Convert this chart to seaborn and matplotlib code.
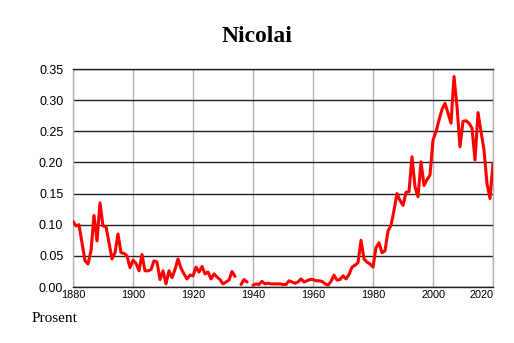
import numpy as np
import pandas as pd
import matplotlib
matplotlib.use("Agg")
import matplotlib.pyplot as plt
from matplotlib.ticker import MultipleLocator, FormatStrFormatter
import seaborn as sns

sns.set_style("white")
plt.rcParams['font.family'] = ['Liberation Sans', 'DejaVu Sans']
plt.rcParams['text.color'] = 'black'
plt.rcParams['xtick.color'] = 'black'
plt.rcParams['ytick.color'] = 'black'

# Share of newborns named Nicolai (percent), one value per year from 1880
first_year = 1880
last_year = 2020
share = [
    0.105, 0.098, 0.100, 0.071, 0.042, 0.037, 0.058, 0.115, 0.074, 0.135,   # 1880s
    0.098, 0.097, 0.071, 0.045, 0.055, 0.085, 0.055, 0.054, 0.050, 0.031,   # 1890s
    0.043, 0.038, 0.026, 0.052, 0.026, 0.026, 0.028, 0.042, 0.040, 0.012,   # 1900s
    0.026, 0.005, 0.026, 0.015, 0.028, 0.045, 0.030, 0.021, 0.013, 0.019,   # 1910s
    0.018, 0.032, 0.024, 0.033, 0.021, 0.024, 0.013, 0.021, 0.016, 0.012,   # 1920s
    0.005, 0.008, 0.011, 0.025, 0.017, None, 0.004, 0.012, 0.008, None,     # 1930s
    0.003, 0.005, 0.004, 0.009, 0.005, 0.006, 0.005, 0.005, 0.005, 0.005,   # 1940s
    0.004, 0.004, 0.010, 0.008, 0.006, 0.008, 0.013, 0.008, 0.010, 0.012,   # 1950s
    0.012, 0.010, 0.010, 0.009, 0.005, 0.003, 0.009, 0.019, 0.011, 0.012,   # 1960s
    0.018, 0.013, 0.020, 0.032, 0.035, 0.039, 0.075, 0.045, 0.040, 0.037,   # 1970s
    0.032, 0.063, 0.071, 0.055, 0.058, 0.090, 0.099, 0.123, 0.150, 0.139,   # 1980s
    0.131, 0.152, 0.153, 0.209, 0.161, 0.145, 0.201, 0.163, 0.172, 0.180,   # 1990s
    0.236, 0.249, 0.268, 0.285, 0.295, 0.279, 0.263, 0.338, 0.290, 0.225,   # 2000s
    0.266, 0.267, 0.263, 0.255, 0.204, 0.280, 0.250, 0.220, 0.166, 0.142,   # 2010s
    0.198,                                                                   # 2020
]
year_ticks = [1880, 1900, 1920, 1940, 1960, 1980, 2000, 2020]
title = "Nicolai"
unit_label = "Prosent"

df = pd.DataFrame({'year': np.arange(first_year, last_year + 1),
                   'share': pd.to_numeric(pd.Series(share), errors='coerce')})
# break the line where a year is missing
df['seg'] = df['share'].isna().cumsum()
df = df.dropna(subset=['share'])

fig = plt.figure(figsize=(5.14, 3.43), dpi=100)
ax = fig.add_axes([73 / 514, 1 - 287 / 343, 420 / 514, 218 / 343])

sns.lineplot(data=df, x='year', y='share', units='seg', estimator=None,
             color='#ff0000', linewidth=2.2, ax=ax, zorder=3)

ax.set_xlim(first_year, last_year)
ax.set_ylim(0, 0.35)
ax.set_xticks(year_ticks)
ax.xaxis.set_minor_locator(MultipleLocator(5))
ax.yaxis.set_major_locator(MultipleLocator(0.05))
ax.yaxis.set_major_formatter(FormatStrFormatter('%.2f'))

ax.set_axisbelow(True)
ax.yaxis.grid(True, color='#222222', linewidth=1)
ax.xaxis.grid(True, which='major', color='#b4b4b4', linewidth=1)

for side in ['left', 'right']:
    ax.spines[side].set_color('#b4b4b4')
for side in ['top', 'bottom']:
    ax.spines[side].set_color('#222222')
for s in ax.spines.values():
    s.set_linewidth(1)

ax.tick_params(axis='y', direction='in', length=5, width=1, color='#222222',
               labelsize=9, pad=7)
ax.tick_params(axis='x', which='major', direction='in', length=4, width=0.8,
               color='#555555', labelsize=7.8, pad=2)
ax.tick_params(axis='x', which='minor', direction='in', length=3, width=0.6,
               color='#555555')

ax.set_xlabel("")
ax.set_ylabel("")

# last year label sits inside the figure, right-aligned at the axis end
ax.xaxis.get_major_ticks()[-1].label1.set_horizontalalignment('right')

fig.text(0.5, 1 - 36 / 343, title, ha='center', va='center',
         fontsize=17, fontweight='bold', family='Liberation Serif')
fig.text(32 / 514, 1 - 319 / 343, unit_label, ha='left', va='center',
         fontsize=11, family='Liberation Serif')

fig.savefig("out.png", dpi=100)
